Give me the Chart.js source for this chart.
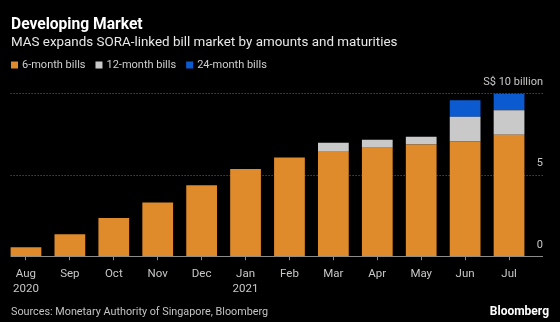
<!DOCTYPE html>
<html>
<head>
<meta charset="utf-8">
<script src="https://cdn.jsdelivr.net/npm/chart.js@4"></script>
<style>
  html, body { margin: 0; padding: 0; background: #000; }
  #wrap { position: relative; width: 560px; height: 322px; background: #000; overflow: hidden; font-family: Roboto, sans-serif; }
  #chart { position: absolute; left: 0; top: 0; }
  .txt { position: absolute; white-space: nowrap; }
  #title { left: 11px; top: 14px; font-size: 15.6px; line-height: 20px; font-weight: bold; color: #fff; }
  #subtitle { left: 11px; top: 33px; font-size: 13.4px; line-height: 18px; color: #e8e8e8; }
  #source { left: 11px; top: 304px; font-size: 10.8px; line-height: 15px; color: #c4c4c4; }
  #brand { right: 11px; top: 304px; font-size: 12px; line-height: 15px; font-weight: bold; color: #fff; }
</style>
</head>
<body>
<div id="wrap">
  <canvas id="chart" width="560" height="322"></canvas>
  <div class="txt" id="title">Developing Market</div>
  <div class="txt" id="subtitle">MAS expands SORA-linked bill market by amounts and maturities</div>
  <div class="txt" id="source">Sources: Monetary Authority of Singapore, Bloomberg</div>
  <div class="txt" id="brand">Bloomberg</div>
</div>
<script>
const months = [["Aug", "2020"], "Sep", "Oct", "Nov", "Dec", ["Jan", "2021"], "Feb", "Mar", "Apr", "May", "Jun", "Jul"];
const sixMonth = [0.55, 1.35, 2.35, 3.3, 4.35, 5.35, 6.05, 6.45, 6.65, 6.85, 7.05, 7.45];
const twelveMonth = [null, null, null, null, null, null, null, 0.5, 0.48, 0.47, 1.5, 1.5];
const twentyFourMonth = [null, null, null, null, null, null, null, null, null, null, 1.0, 1.0];
const yTicks = [0, 5, 10];
const yTickLabels = ["0", "5", "S$ 10 billion"];

const FONT = "Roboto, sans-serif";

// gridlines, y labels and legend, drawn off the chart's own scales
const overlay = {
  id: "overlay",
  beforeDatasetsDraw(chart) {
    const ctx = chart.ctx;
    const y = chart.scales.y;
    const bar0 = chart.getDatasetMeta(0).data[0];
    const left = bar0.x - bar0.width / 2;
    const right = chart.chartArea.right + 12;
    ctx.save();
    yTicks.forEach(v => {
      const py = Math.round(y.getPixelForValue(v)) + 0.5;
      ctx.beginPath();
      if (v === 0) {
        ctx.setLineDash([]);
        ctx.strokeStyle = "#8c8c8c";
      } else {
        ctx.setLineDash([1, 2]);
        ctx.strokeStyle = "#6a6a6a";
      }
      ctx.lineWidth = 1;
      ctx.moveTo(left, py);
      ctx.lineTo(right, py);
      ctx.stroke();
    });
    ctx.restore();
  },
  afterDraw(chart) {
    const ctx = chart.ctx;
    const y = chart.scales.y;
    const right = chart.chartArea.right + 12;
    ctx.save();
    ctx.font = "11px " + FONT;
    ctx.fillStyle = "#c8c8c8";
    ctx.textAlign = "right";
    ctx.textBaseline = "middle";
    yTicks.forEach((v, i) => {
      ctx.fillText(yTickLabels[i], right, y.getPixelForValue(v) - 11);
    });

    // legend
    ctx.font = "11px " + FONT;
    ctx.textAlign = "left";
    let x = 11;
    const ly = 65;
    chart.data.datasets.forEach(ds => {
      ctx.fillStyle = ds.backgroundColor;
      ctx.fillRect(x, ly - 3.5, 7, 7);
      x += 11;
      ctx.fillStyle = "#cfcfcf";
      ctx.fillText(ds.label, x, ly);
      x += ctx.measureText(ds.label).width + 10;
    });
    ctx.restore();
  }
};

new Chart(document.getElementById("chart"), {
  type: "bar",
  data: {
    labels: months,
    datasets: [
      { label: "6-month bills", data: sixMonth, backgroundColor: "#df8a2b" },
      { label: "12-month bills", data: twelveMonth, backgroundColor: "#c9c9c9" },
      { label: "24-month bills", data: twentyFourMonth, backgroundColor: "#0b5ad0" }
    ]
  },
  options: {
    responsive: false,
    animation: false,
    devicePixelRatio: 1,
    layout: { padding: { left: 4, right: 29, top: 93, bottom: 19 } },
    datasets: { bar: { barPercentage: 0.7, categoryPercentage: 1.0, borderWidth: 0 } },
    plugins: { legend: { display: false }, tooltip: { enabled: false } },
    scales: {
      x: {
        stacked: true,
        offset: true,
        border: { display: false },
        grid: { offset: false, drawOnChartArea: false, drawTicks: true, tickLength: 4, color: "#8c8c8c" },
        ticks: { color: "#c8c8c8", font: { family: FONT, size: 11.5, lineHeight: 1.25 }, padding: 7, maxRotation: 0, autoSkip: false }
      },
      y: {
        stacked: true,
        display: false,
        min: 0,
        max: 10
      }
    }
  },
  plugins: [overlay]
});
</script>
</body>
</html>
